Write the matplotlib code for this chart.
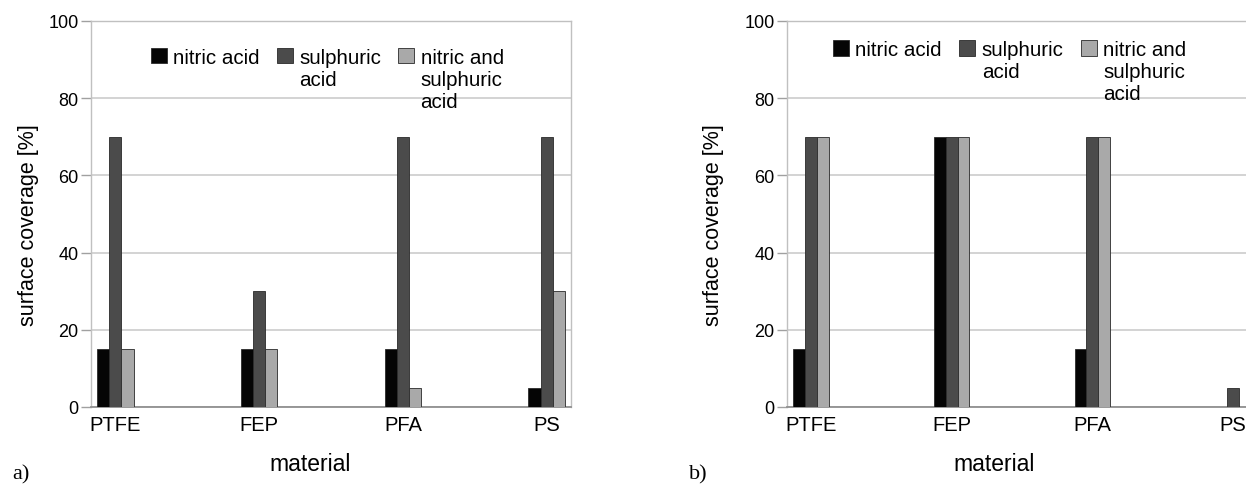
import numpy as np
import matplotlib
matplotlib.use('Agg')
import matplotlib.pyplot as plt

# Datos (cobertura superficial en %)
materiales = ['PTFE', 'FEP', 'PFA', 'PS']
series = ['nitric acid', 'sulphuric\nacid', 'nitric and\nsulphuric\nacid']

# panel a)
a_nitrico = [15, 15, 15, 5]
a_sulfurico = [70, 30, 70, 70]
a_mezcla = [15, 15, 5, 30]

# panel b)
b_nitrico = [15, 70, 15, 0]
b_sulfurico = [70, 70, 70, 5]
b_mezcla = [70, 70, 70, 0]

colores = ['#050505', '#4b4b4b', '#a9a9a9']
ancho = 0.084

plt.rcParams['font.family'] = ['Liberation Sans', 'DejaVu Sans']

W, H = 1246, 485
fig = plt.figure(figsize=(W/100., H/100.), dpi=100)

def px(x0, y0, x1, y1):
    # rect de pixeles (arriba-izquierda) a coordenadas de figura
    return [x0/W, 1-y1/H, (x1-x0)/W, (y1-y0)/H]

ax1 = fig.add_axes(px(91, 22, 571, 408))
ax2 = fig.add_axes(px(787, 22, 1257, 408))

def panel(ax, datos, leg_x, leg_y):
    x = np.arange(len(materiales))
    for i, (vals, col, lab) in enumerate(zip(datos, colores, series)):
        ax.bar(x + (i-1)*ancho, vals, ancho, color=col, edgecolor='#2a2a2a',
               linewidth=0.6, label=lab, zorder=3)
    ax.set_xlim(-0.17, 3.17)
    ax.set_ylim(0, 100)
    ax.set_yticks(np.arange(0, 101, 20))
    ax.set_xticks(x)
    ax.set_xticklabels(materiales, fontsize=14.5)
    ax.tick_params(axis='x', length=0, pad=6)
    ax.tick_params(axis='y', length=7, width=1, color='#a0a0a0', labelsize=13, pad=2)
    ax.yaxis.grid(True, color='#cccccc', linewidth=1.2, zorder=0)
    for s in ['left', 'right', 'top']:
        ax.spines[s].set_color('#c0c0c0')
        ax.spines[s].set_linewidth(1.0)
    ax.spines['bottom'].set_color('#909090')
    ax.spines['bottom'].set_linewidth(1.3)
    ax.set_axisbelow(True)

    leg = ax.legend(loc='upper center', bbox_to_anchor=(leg_x, leg_y), ncol=3,
                    frameon=False, fontsize=14.8, handlelength=0.78, handleheight=0.78,
                    handletextpad=0.3, columnspacing=0.85, borderpad=0, borderaxespad=0)
    for t in leg.get_texts():
        t.set_linespacing(1.2)
    # el cuadrado alineado con la primera linea del texto
    caja = leg._legend_handle_box
    caja.align = 'top'
    for col in caja.get_children():
        col.align = 'top'
        for item in col.get_children():
            item.align = 'top'
    return leg

panel(ax1, [a_nitrico, a_sulfurico, a_mezcla], 0.492, 0.93)
panel(ax2, [b_nitrico, b_sulfurico, b_mezcla], 0.474, 0.95)

# etiquetas de ejes
for xc in [29, 714]:
    fig.text(xc/W, 1-225/H, 'surface coverage [%]', rotation=90, fontsize=15.5,
             ha='center', va='center')
for xc in [310, 994]:
    fig.text(xc/W, 1-465/H, 'material', fontsize=16.5, ha='center', va='center')

# rotulos de panel
fig.text(21/W, 1-475/H, 'a)', fontsize=16, family='Liberation Serif', ha='center', va='center')
fig.text(698/W, 1-475/H, 'b)', fontsize=16, family='Liberation Serif', ha='center', va='center')

plt.savefig('out.png', dpi=100)
